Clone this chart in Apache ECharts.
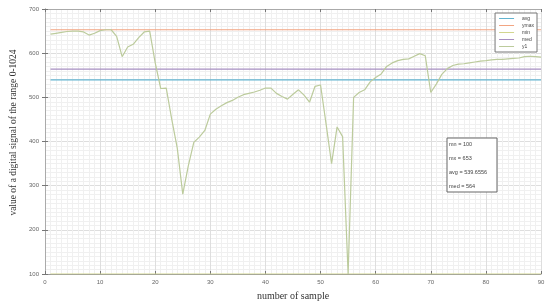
<!DOCTYPE html>
<html><head><meta charset="utf-8">
<script src="https://cdn.jsdelivr.net/npm/echarts@6/dist/echarts.min.js"></script>
<style>html,body{margin:0;padding:0;background:#fff}#c{width:550px;height:306px}</style>
</head><body><div id="c"></div>
<script>
const samples = [];
for (let i = 1; i <= 90; i++) samples.push(i);
const y1 = [643,645,647,649,650,650,648,641,645,651,
  653,653,638,592,614,620,635,648,650,578,
  520,521,450,385,281,345,398,410,425,462,
  473,481,488,493,500,506,509,512,516,521,
  521,509,502,496,507,517,505,489,525,528,
  440,350,433,411,100,500,511,517,535,545,
  553,570,578,583,586,587,593,599,594,511,
  530,552,565,572,575,576,578,580,582,583,
  585,586,586,587,588,589,592,593,592,591];
const avgVal = 539.6556, ymaxVal = 653, minVal = 100, medVal = 564;
const seriesNames = ['avg','ymax','min','med','y1'];
const xTicks = {min:0, max:90, interval:10};
const yTicks = {min:100, max:700, interval:100};
const statLines = ['mn = 100','mx = 653','avg = 539.6556','med = 564'];

const colors = {avg:'#62b3cf', ymax:'#f2a582', min:'#d2d68e', med:'#a78fc2', y1:'#bccb9c'};
const flat = v => [[samples[0], v], [samples[samples.length-1], v]];

const chart = echarts.init(document.getElementById('c'), null, {renderer:'canvas'});
const tickLbl = {fontSize:6, color:'#666', fontFamily:'Liberation Sans'};
const minorLine = {show:true, lineStyle:{color:'#f0f0f0', width:1}};
const majorLine = {show:true, lineStyle:{color:'#dedede', width:1}};
const lineSeries = (name, data) => ({
  name, type:'line', data, showSymbol:false, symbol:'none',
  lineStyle:{color:colors[name], width:1.2}, itemStyle:{color:colors[name]},
  animation:false, xAxisIndex:0, yAxisIndex:0, z:3
});
const graphics = [{type:'rect', shape:{x:447, y:138, width:50, height:54},
  style:{fill:'#fff', stroke:'#666', lineWidth:1}, z:100}];
statLines.forEach((t,i)=>graphics.push({type:'text', x:449, y:144+i*14.3, z:101,
  style:{text:t, fontSize:5.5, fill:'#444', fontFamily:'Liberation Sans', verticalAlign:'middle', textAlign:'left'}}));

chart.setOption({
  animation:false,
  grid:{left:40, right:9, top:9, bottom:28},
  xAxis:[{
    type:'value', min:xTicks.min, max:xTicks.max, interval:xTicks.interval,
    name:'number of sample', nameLocation:'middle', nameGap:17,
    nameTextStyle:{fontFamily:'Liberation Serif', fontSize:10, color:'#333'},
    axisLine:{show:true, lineStyle:{color:'#999'}},
    axisTick:{show:true, inside:true, length:3, lineStyle:{color:'#777'}},
    axisLabel:Object.assign({margin:5}, tickLbl),
    splitLine:majorLine, minorTick:{show:false, splitNumber:10}, minorSplitLine:minorLine
  },{
    type:'value', min:xTicks.min, max:xTicks.max, interval:xTicks.interval, position:'top',
    axisLine:{show:true, lineStyle:{color:'#aaa'}},
    axisTick:{show:true, inside:true, length:3, lineStyle:{color:'#777'}},
    axisLabel:{show:false}, splitLine:{show:false}
  }],
  yAxis:[{
    type:'value', min:yTicks.min, max:yTicks.max, interval:yTicks.interval,
    name:'value of a digital signal of the range 0-1024', nameLocation:'middle', nameGap:27,
    nameTextStyle:{fontFamily:'Liberation Serif', fontSize:9.5, color:'#333', padding:[0,0,0,18]},
    axisLine:{show:true, lineStyle:{color:'#999'}},
    axisTick:{show:true, inside:true, length:3, lineStyle:{color:'#777'}},
    axisLabel:Object.assign({margin:6}, tickLbl),
    splitLine:majorLine, minorTick:{show:false, splitNumber:10}, minorSplitLine:minorLine
  },{
    type:'value', min:yTicks.min, max:yTicks.max, interval:yTicks.interval, position:'right',
    axisLine:{show:true, lineStyle:{color:'#aaa'}},
    axisTick:{show:true, inside:true, length:3, lineStyle:{color:'#777'}},
    axisLabel:{show:false}, splitLine:{show:false}
  }],
  legend:{
    data:seriesNames, orient:'vertical', right:13, top:13,
    itemWidth:15, itemHeight:1, itemGap:2, icon:'rect',
    backgroundColor:'#fff', borderColor:'#777', borderWidth:1, padding:[3,3,3,4],
    textStyle:{fontSize:5, color:'#444', fontFamily:'Liberation Sans', padding:[0,0,0,3]}
  },
  series:[
    lineSeries('avg', flat(avgVal)),
    lineSeries('ymax', flat(ymaxVal)),
    lineSeries('min', flat(minVal)),
    lineSeries('med', flat(medVal)),
    lineSeries('y1', samples.map((x,i)=>[x, y1[i]]))
  ],
  graphic:graphics
});
</script></body></html>
